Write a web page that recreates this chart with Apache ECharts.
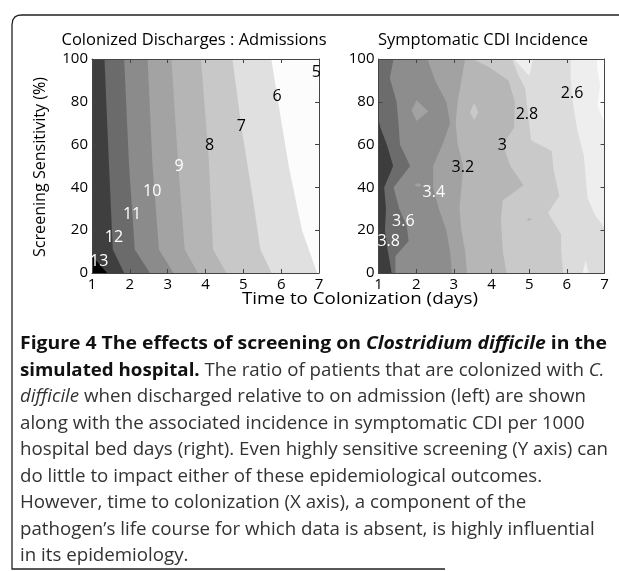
<!DOCTYPE html>
<html>
<head>
<meta charset="utf-8">
<script src="https://cdn.jsdelivr.net/npm/echarts@6.0.0/dist/echarts.min.js"></script>
<style>
html,body{margin:0;padding:0;background:#fff;}
#chart{width:619px;height:571px;}
</style>
</head>
<body>
<div id="chart"></div>
<script>
// ================= DATA =================
const xTickValues = [1, 2, 3, 4, 5, 6, 7];        // Time to Colonization (days)
const yTickValues = [0, 20, 40, 60, 80, 100];     // Screening Sensitivity (%)

// ---- Left panel: Colonized Discharges : Admissions (contour lines, [days, %]) ----
const leftLevels = ['13', '12', '11', '10', '9', '8', '7', '6', '5'];
const leftLine13 = [[1.4, 0], [1.2, 4], [1.0, 8], [1.0, 100]];
const leftLine12 = [[1.85, 0], [1.55, 11], [1.45, 50], [1.33, 100]];
const leftLine11 = [[2.53, 0], [2.13, 11], [1.98, 50], [1.85, 100]];
const leftLine10 = [[3.15, 0], [2.77, 11], [2.6, 50], [2.47, 100]];
const leftLine9  = [[3.8, 0], [3.45, 11], [3.28, 50], [3.1, 100]];
const leftLine8  = [[4.55, 0], [4.2, 11], [4.08, 55], [3.88, 100]];
const leftLine7  = [[5.75, 0], [5.45, 11], [5.25, 35], [4.95, 68], [4.71, 100]];
const leftLine6  = [[6.95, 0], [6.75, 10], [6.55, 20], [6.2, 50], [5.9, 82], [5.74, 100]];
const leftLine5  = [[7.0, 0], [7.0, 88], [6.9, 94], [6.82, 100]];
const leftLabelPos = [[1.19, 5.3], [1.58, 16.8], [2.06, 27.4], [2.59, 38.3], [3.30, 49.9],
                      [4.11, 59.4], [4.95, 68.7], [5.89, 82.4], [6.93, 93.9]];

// ---- Right panel: Symptomatic CDI Incidence (contour lines, [days, %]) ----
const rightLevels = ['3.8', '3.6', '3.4', '3.2', '3', '2.8', '2.6'];
const rightLine38 = [[1.35, 0], [1.25, 10], [1.17, 20], [1.2, 30], [1.15, 40], [1.39, 50], [1.22, 60], [1.05, 68], [1.0, 72], [1.0, 100]];
const rightLine36 = [[1.45, 0], [1.45, 8], [1.8, 15], [1.75, 22], [1.55, 30], [1.4, 40], [1.84, 50], [1.57, 60], [1.53, 70], [1.48, 80], [1.3, 91], [1.4, 100]];
const rightLine34 = [[2.95, 0], [2.9, 10], [2.8, 20], [2.6, 30], [2.45, 40], [2.45, 50], [2.7, 60], [2.9, 70], [2.8, 80], [2.5, 90], [2.3, 100]];
const rightLine32 = [[3.35, 0], [3.3, 10], [3.2, 20], [3.15, 30], [3.2, 40], [3.25, 50], [3.1, 60], [3.05, 70], [3.1, 80], [3.2, 90], [3.3, 100]];
const rightLine30 = [[4.4, 0], [4.3, 10], [4.25, 25], [4.3, 34], [4.85, 41], [4.5, 50], [4.3, 60], [4.6, 68], [4.62, 80], [4.45, 90], [3.95, 96], [3.5, 100]];
const rightLine28 = [[5.9, 0], [5.85, 10], [5.85, 18], [5.5, 28], [5.8, 36], [5.65, 48], [5.6, 57], [5.05, 62], [5.0, 70], [4.95, 77], [4.9, 86], [4.7, 93], [4.55, 100]];
const rightLine26 = [[7.0, 0], [7.0, 21], [6.75, 27], [6.55, 35], [6.5, 45], [6.45, 55], [6.3, 65], [6.2, 75], [6.13, 84], [6.1, 92], [6.1, 100]];
const rightLine24 = [[7.0, 0], [7.0, 70], [6.82, 78], [6.88, 88], [6.8, 96], [6.8, 100]];
// small closed contours (islands)
const rightIsland1 = [[1.88, 76], [2.01, 80.7], [2.32, 75.5], [2.01, 71]];   // 3.2–3.4
const rightIsland2 = [[3.43, 75], [3.54, 79.5], [3.65, 75], [3.54, 71.5]];   // 2.8–3.0
const rightIsland3 = [[1.95, 41], [2.05, 42], [2.15, 41], [2.05, 40.3]];     // 3.2–3.4
const rightIsland4 = [[4.93, 25], [5.0, 25.8], [5.07, 25], [5.0, 24.3]];     // 3.0–3.2
const rightIsland5 = [[4.6, 100], [5.0, 92], [5.1, 100]];                    // < 2.6
const rightIsland6 = [[6.42, 0], [6.5, 6], [6.58, 0]];                       // < 2.6
const rightLabelPos = [[1.27, 14.6], [1.66, 24.2], [2.47, 37.5], [3.24, 49.2],
                       [4.29, 59.5], [4.94, 74.3], [6.14, 84.1]];

// ================= STYLE =================
const FONT = "'Open Sans', 'Noto Sans', sans-serif";
const leftBandColors  = ['#000000', '#3f3f3f', '#6b6b6b', '#8b8b8b', '#a3a3a3', '#b5b5b5', '#c8c8c8', '#e0e0e0', '#fcfcfc', '#ffffff'];
const leftLabelColors = ['#fff', '#fff', '#fff', '#fff', '#fff', '#000', '#000', '#000', '#000'];
const rightBandColors = ['#3d3d3d', '#6c6c6c', '#8d8d8d', '#a2a2a2', '#b6b6b6', '#c9c9c9', '#dcdcdc', '#eeeeee', '#fbfbfb'];
const rightLabelColors = ['#fff', '#fff', '#fff', '#000', '#000', '#000', '#000'];

const xMin = xTickValues[0], xMax = xTickValues[xTickValues.length - 1];
const yMin = yTickValues[0], yMax = yTickValues[yTickValues.length - 1];
const frame = [[xMin, yMin], [xMin, yMax], [xMax, yMax], [xMax, yMin]];

function bandPolys(lines, colors) {
  const polys = [{ pts: frame, color: colors[0] }];
  lines.forEach((ln, i) => {
    polys.push({ pts: ln.concat([[xMax, yMax], [xMax, yMin]]), color: colors[i + 1] });
  });
  return polys;
}
const leftPolys = bandPolys([leftLine13, leftLine12, leftLine11, leftLine10, leftLine9, leftLine8, leftLine7, leftLine6, leftLine5], leftBandColors);
const rightPolys = bandPolys([rightLine38, rightLine36, rightLine34, rightLine32, rightLine30, rightLine28, rightLine26, rightLine24], rightBandColors);
[[rightIsland1, 3], [rightIsland2, 5], [rightIsland3, 3], [rightIsland4, 4], [rightIsland5, 7], [rightIsland6, 7]]
  .forEach(([pts, b]) => rightPolys.push({ pts: pts, color: rightBandColors[b] }));

function regionSeries(xi, yi, polys) {
  return {
    type: 'custom', coordinateSystem: 'cartesian2d', xAxisIndex: xi, yAxisIndex: yi,
    clip: true, silent: true, z: 2, animation: false,
    data: polys.map(p => p.pts[0]),
    renderItem: (params, api) => {
      const p = polys[params.dataIndex];
      return { type: 'polygon', shape: { points: p.pts.map(d => api.coord(d)) }, style: { fill: p.color } };
    }
  };
}
function labelSeries(xi, yi, pos, texts, colors) {
  return {
    type: 'custom', coordinateSystem: 'cartesian2d', xAxisIndex: xi, yAxisIndex: yi,
    silent: true, z: 6, animation: false,
    data: pos,
    renderItem: (params, api) => {
      const c = api.coord([api.value(0), api.value(1)]);
      return { type: 'text', x: c[0], y: c[1],
        style: { text: texts[params.dataIndex], fill: colors[params.dataIndex],
                 font: '16px ' + FONT, align: 'center', verticalAlign: 'middle' } };
    }
  };
}

function xAx(g, pos, showLabel) {
  return { gridIndex: g, type: 'value', position: pos, min: xMin, max: xMax, interval: xTickValues[1] - xTickValues[0],
    axisLine: { show: true, onZero: false, lineStyle: { color: '#444', width: 1 } },
    axisTick: { show: true, inside: true, length: 4, lineStyle: { color: '#444' } },
    axisLabel: { show: showLabel, fontFamily: FONT, fontSize: 15, color: '#000', margin: 4 },
    splitLine: { show: false }, z: 5 };
}
function yAx(g, pos, showLabel) {
  return { gridIndex: g, type: 'value', position: pos, min: yMin, max: yMax, interval: yTickValues[1] - yTickValues[0],
    axisLine: { show: true, onZero: false, lineStyle: { color: '#444', width: 1 } },
    axisTick: { show: true, inside: true, length: 4, lineStyle: { color: '#444' } },
    axisLabel: { show: showLabel, fontFamily: FONT, fontSize: 15, color: '#000', margin: 4 },
    splitLine: { show: false }, z: 5 };
}

// ---- text helpers (fit widths of the original typeface) ----
const mctx = document.createElement('canvas').getContext('2d');
function textW(t, size, weight, style) {
  mctx.font = (style || 'normal') + ' ' + (weight || 'normal') + ' ' + size + 'px ' + FONT;
  return mctx.measureText(t).width;
}
function fitText(t, x, y, size, target, opts) {
  opts = opts || {};
  const w = textW(t, size, opts.weight, opts.style);
  return { type: 'text', x: x, y: y, rotation: opts.rotation || 0, scaleX: target / w, silent: true,
    style: { text: t, fill: opts.fill || '#000', fontFamily: FONT, fontSize: size,
             fontWeight: opts.weight || 'normal', fontStyle: opts.style || 'normal',
             align: opts.align || 'center', verticalAlign: 'middle' } };
}

const captionLines = [
  [['Figure 4 The effects of screening on ', 'b'], ['Clostridium difficile', 'bi'], [' in the', 'b']],
  [['simulated hospital.', 'b'], [' The ratio of patients that are colonized with ', 'n'], ['C.', 'i']],
  [['difficile', 'i'], [' when discharged relative to on admission (left) are shown', 'n']],
  [['along with the associated incidence in symptomatic CDI per 1000', 'n']],
  [['hospital bed days (right). Even highly sensitive screening (Y axis) can', 'n']],
  [['do little to impact either of these epidemiological outcomes.', 'n']],
  [['However, time to colonization (X axis), a component of the', 'n']],
  [['pathogen\u2019s life course for which data is absent, is highly influential', 'n']],
  [['in its epidemiology.', 'n']]
];
const segStyle = {
  b: { weight: 'bold', style: 'normal', fill: '#111' },
  bi: { weight: 'bold', style: 'italic', fill: '#111' },
  n: { weight: 'normal', style: 'normal', fill: '#333' },
  i: { weight: 'normal', style: 'italic', fill: '#333' }
};
const CAP_SIZE = 18, CAP_X = 20, CAP_Y0 = 344, CAP_DY = 26.5;
function lineWidth(segs) { return segs.reduce((s, g) => s + textW(g[0], CAP_SIZE, segStyle[g[1]].weight, segStyle[g[1]].style), 0); }
const bodyScale = 588 / lineWidth(captionLines[4]);
const headScale = 587 / lineWidth(captionLines[0]);
const captionGraphics = [];
captionLines.forEach((segs, li) => {
  const sc = li === 0 ? headScale : bodyScale;
  let cx = CAP_X;
  segs.forEach(g => {
    const st = segStyle[g[1]];
    captionGraphics.push({ type: 'text', x: cx, y: CAP_Y0 + li * CAP_DY, scaleX: sc, silent: true,
      style: { text: g[0], fill: st.fill, fontFamily: FONT, fontSize: CAP_SIZE, fontWeight: st.weight,
               fontStyle: st.style, align: 'left', verticalAlign: 'middle' } });
    cx += sc * textW(g[0], CAP_SIZE, st.weight, st.style);
  });
});

const chart = echarts.init(document.getElementById('chart'), null, { renderer: 'canvas' });
chart.setOption({
  animation: false,
  backgroundColor: '#ffffff',
  grid: [
    { left: 92, top: 59, width: 227, height: 214 },
    { left: 378.5, top: 59, width: 226, height: 214 }
  ],
  xAxis: [xAx(0, 'bottom', true), xAx(0, 'top', false), xAx(1, 'bottom', true), xAx(1, 'top', false)],
  yAxis: [yAx(0, 'left', true), yAx(0, 'right', false), yAx(1, 'left', true), yAx(1, 'right', false)],
  series: [
    regionSeries(0, 0, leftPolys),
    regionSeries(2, 2, rightPolys),
    labelSeries(0, 0, leftLabelPos, leftLevels, leftLabelColors),
    labelSeries(2, 2, rightLabelPos, rightLevels, rightLabelColors)
  ],
  graphic: [
    { type: 'polyline', silent: true,
      shape: { points: [[445, 569], [12, 569], [12, 25], [12.8, 20], [15, 16.8], [18, 15.4], [22, 15], [619, 15]] },
      style: { fill: null, stroke: '#222', lineWidth: 1.3 } },
    fitText('Colonized Discharges : Admissions', 194, 40, 17, 265),
    fitText('Symptomatic CDI Incidence', 483, 40, 17, 210),
    fitText('Time to Colonization (days)', 360, 299, 16, 236),
    fitText('Screening Sensitivity (%)', 40, 167, 16, 180, { rotation: Math.PI / 2 })
  ].concat(captionGraphics)
});
</script>
</body>
</html>
